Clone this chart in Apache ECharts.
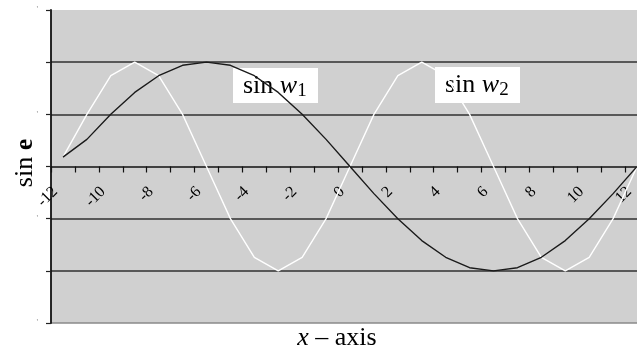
<!DOCTYPE html>
<html>
<head>
<meta charset="utf-8">
<script src="https://cdn.jsdelivr.net/npm/echarts@6/dist/echarts.min.js"></script>
<style>
  html, body { margin: 0; padding: 0; background: #fff; }
  #main { width: 637px; height: 351px; }
</style>
</head>
<body>
<div id="main"></div>
<script>
// x categories, -12 .. 12
var xCats = ['-12', '-11', '-10', '-9', '-8', '-7', '-6', '-5', '-4', '-3', '-2', '-1', '0',
  '1', '2', '3', '4', '5', '6', '7', '8', '9', '10', '11', '12'];
// black curve (sin w1)
var sinW1 = [0.09, 0.26, 0.5, 0.71, 0.87, 0.97, 1.0, 0.97, 0.87, 0.71, 0.5, 0.26, 0,
  -0.26, -0.5, -0.71, -0.87, -0.97, -1.0, -0.97, -0.87, -0.71, -0.5, -0.26, 0];
// white curve (sin w2)
var sinW2 = [0.09, 0.5, 0.87, 1.0, 0.87, 0.5, 0, -0.5, -0.87, -1.0, -0.87, -0.5, 0,
  0.5, 0.87, 1.0, 0.87, 0.5, 0, -0.5, -0.87, -1.0, -0.87, -0.5, 0];
var yMin = -1.5, yMax = 1.5, yStep = 0.5;

var serif = '"Liberation Serif", "DejaVu Serif", serif';
var myChart = echarts.init(document.getElementById('main'));

var gridTop = 10, gridBottom = 28;
var plotH = 351 - gridTop - gridBottom;
// move the x axis up from the grid bottom to y = 0
var zeroOffset = -plotH * (0 - yMin) / (yMax - yMin);

myChart.setOption({
  animation: false,
  backgroundColor: '#fff',
  grid: {
    left: 51, right: -12, top: gridTop, bottom: gridBottom,
    outerBoundsMode: 'none',
    containLabel: false,
    show: true,
    backgroundColor: '#d0d0d0',
    borderWidth: 0
  },
  xAxis: {
    type: 'category',
    data: xCats,
    boundaryGap: true,
    position: 'bottom',
    offset: zeroOffset,
    axisLine: { onZero: false, lineStyle: { color: '#111', width: 1.5 } },
    axisTick: { show: true, interval: 0, length: 6, lineStyle: { color: '#111', width: 1.2 } },
    axisLabel: {
      interval: 1,
      rotate: 45,
      margin: 15,
      padding: [0, 11, 0, 0],
      color: '#000',
      fontFamily: serif,
      fontSize: 16
    },
    splitLine: { show: false }
  },
  yAxis: {
    type: 'value',
    min: yMin,
    max: yMax,
    interval: yStep,
    axisLine: { show: true, lineStyle: { color: '#111', width: 1.8 } },
    axisTick: { show: true, length: 5, lineStyle: { color: '#222', width: 1.2 } },
    axisLabel: {
      margin: 13,
      color: '#999',
      fontFamily: serif,
      fontSize: 9,
      formatter: function (v) {
        return Math.abs(Math.round(v / yStep)) % 2 === 1 ? '\'' : '';
      }
    },
    splitLine: {
      show: true,
      lineStyle: {
        width: 1.5,
        color: ['#8a8a8a', '#303030', '#303030', 'rgba(0,0,0,0)', '#303030', '#303030', 'rgba(0,0,0,0)']
      }
    }
  },
  series: [
    {
      name: 'sin w2',
      type: 'line',
      data: sinW2,
      symbol: 'none',
      lineStyle: { color: '#ffffff', width: 1.4 }
    },
    {
      name: 'sin w1',
      type: 'line',
      data: sinW1,
      symbol: 'none',
      lineStyle: { color: '#1a1a1a', width: 1.4 }
    }
  ],
  graphic: [
    // text boxes
    {
      type: 'group', left: 233, top: 68, z: 100,
      children: [
        { type: 'rect', shape: { x: 0, y: 0, width: 85, height: 35 }, style: { fill: '#fff' } },
        {
          type: 'text', x: 10, y: 3,
          style: {
            text: '{a|sin }{w|w}{s|1}',
            rich: {
              a: { fontFamily: serif, fontSize: 26, lineHeight: 30, verticalAlign: 'middle', fill: '#000' },
              w: { fontFamily: serif, fontSize: 26, fontStyle: 'italic', lineHeight: 30, verticalAlign: 'middle', fill: '#000' },
              s: { fontFamily: serif, fontSize: 19, lineHeight: 30, verticalAlign: 'bottom', fill: '#000' }
            }
          }
        }
      ]
    },
    {
      type: 'group', left: 435, top: 67, z: 100,
      children: [
        { type: 'rect', shape: { x: 0, y: 0, width: 85, height: 36 }, style: { fill: '#fff' } },
        {
          type: 'text', x: 10, y: 3,
          style: {
            text: '{a|sin }{w|w}{s|2}',
            rich: {
              a: { fontFamily: serif, fontSize: 26, lineHeight: 30, verticalAlign: 'middle', fill: '#000' },
              w: { fontFamily: serif, fontSize: 26, fontStyle: 'italic', lineHeight: 30, verticalAlign: 'middle', fill: '#000' },
              s: { fontFamily: serif, fontSize: 19, lineHeight: 30, verticalAlign: 'bottom', fill: '#000' }
            }
          }
        }
      ]
    },
    // x axis title
    {
      type: 'text', x: 337, y: 338,
      style: {
        text: '{i|x} – axis',
        align: 'center', verticalAlign: 'middle',
        fontFamily: serif, fontSize: 26, fill: '#000',
        rich: {
          i: { fontFamily: serif, fontSize: 26, fontStyle: 'italic', fill: '#000' }
        }
      }
    },
    // y axis title
    {
      type: 'text', x: 25, y: 163, rotation: Math.PI / 2,
      style: {
        text: 'sin {b|e}',
        align: 'center', verticalAlign: 'middle',
        fontFamily: serif, fontSize: 26, fill: '#000',
        rich: {
          b: { fontFamily: serif, fontSize: 26, fontWeight: 'bold', fill: '#000' }
        }
      }
    }
  ]
});
</script>
</body>
</html>
